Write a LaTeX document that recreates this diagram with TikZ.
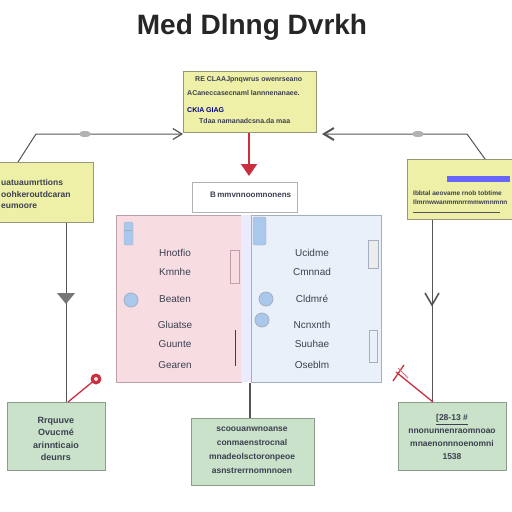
\documentclass[tikz,border=0pt]{standalone}
\usepackage{fontspec}
\setmainfont{Liberation Sans}
\usetikzlibrary{arrows.meta,shapes.geometric}
\definecolor{ybox}{RGB}{238,240,168}
\definecolor{yedge}{RGB}{150,150,120}
\definecolor{gbox}{RGB}{202,226,202}
\definecolor{gedge}{RGB}{140,155,140}
\definecolor{pinkp}{RGB}{247,220,226}
\definecolor{pedge}{RGB}{190,160,168}
\definecolor{bluep}{RGB}{234,240,249}
\definecolor{bedge}{RGB}{165,175,192}
\definecolor{redl}{RGB}{200,48,64}
\definecolor{linec}{RGB}{85,85,85}
\definecolor{txt}{RGB}{60,64,80}
\definecolor{dotb}{RGB}{170,200,235}
\begin{document}
\begin{tikzpicture}[x=1pt,y=-1pt,
  ybx/.style={draw=yedge,fill=ybox,line width=0.8pt},
  gbx/.style={draw=gedge,fill=gbox,line width=0.8pt},
  conn/.style={draw=linec,line width=1pt},
  redc/.style={draw=redl,line width=1.3pt},
  tx/.style={text=txt,font=\fontsize{8}{9}\selectfont\bfseries,inner sep=0pt},
  ptx/.style={text=txt,font=\fontsize{10}{11}\selectfont,inner sep=0pt},
  dot/.style={circle,draw=bedge,fill=dotb,minimum size=14pt,inner sep=0pt,line width=0.8pt}]
\useasboundingbox (0,0) rectangle (512,512);
\fill[white] (0,0) rectangle (512,512);
% title
\node[font=\fontsize{28}{30}\selectfont\bfseries,text=black!85] (title) at (252,27) {Med Dlnng Dvrkh};
% top yellow box
\node[ybx,minimum width=133pt,minimum height=61pt,anchor=north west] (top) at (183,71) {};
\node[tx,anchor=west,font=\fontsize{7}{8}\selectfont\bfseries] (t1) at (195,80) {RE CLAAJpnqwrus owenrseano};
\node[tx,anchor=west,font=\fontsize{7}{8}\selectfont\bfseries] (t2) at (187,93) {ACaneccasecnaml lannnenanaee.};
\node[tx,anchor=west,font=\fontsize{7}{8}\selectfont\bfseries,text=blue!55!black] (t3) at (187,110) {CKIA GIAG};
\node[tx,anchor=west,font=\fontsize{7}{8}\selectfont\bfseries] (t4) at (199,121) {Tdaa namanadcsna.da maa};
% side yellow boxes
\node[ybx,minimum width=95pt,minimum height=60pt,anchor=north west] (lbox) at (-2,162) {};
\node[tx,anchor=west,font=\fontsize{8.5}{9}\selectfont\bfseries] (l1) at (1,182) {uatuaumrttions};
\node[tx,anchor=west,font=\fontsize{8.5}{9}\selectfont\bfseries] (l2) at (1,194) {oohkeroutdcaran};
\node[tx,anchor=west,font=\fontsize{8.5}{9}\selectfont\bfseries] (l3) at (1,206) {eumoore};
\node[ybx,minimum width=108pt,minimum height=60pt,anchor=north west] (rbox) at (407,159) {};
\fill[blue!60!white] (447,176) rectangle (510,182);
\node[tx,anchor=west,font=\fontsize{6.5}{7}\selectfont\bfseries] (r1) at (413,193) {Ibbtal aeovame rnob tobtime};
\node[tx,anchor=west,font=\fontsize{6.5}{7}\selectfont\bfseries] (r2) at (413,202) {Ilmrnwwanmmnrrmmwmnmnn};
\draw[linec,line width=0.8pt] (413,212) -- (500,212);
% top connectors
\coordinate (lk) at (36,134);
\coordinate (rk) at (467,134);
\coordinate (la) at (183,134);
\coordinate (ra) at (322,134);
\draw[conn,-{Straight Barb[length=9pt,width=11pt,line width=1.2pt]}] (lbox.north west) ++(20,0) coordinate (lbt) -- (lk) -- (la);
\draw[conn,-{Straight Barb[length=10pt,width=12pt,line width=2pt]}] (rbox.north west) ++(78,0) coordinate (rbt) -- (rk) -- (ra);
\fill[gray!60] (85,134) ellipse (6pt and 3pt);
\fill[gray!60] (418,134) ellipse (6pt and 3pt);
% red arrow
\coordinate (rs) at (249,176);
\draw[redc,line width=2pt,-{Triangle[length=12pt,width=16pt]}] (top.south -| rs) -- (rs);
% center label box
\node[draw=gray!60,fill=white,minimum width=105pt,minimum height=30pt,anchor=north west] (lab) at (192,182) {};
\node[tx,anchor=west,font=\fontsize{8}{9}\selectfont\bfseries] (labt) at (210,195) {B\,mmvnnoomnonens};
% panels
\node[draw=pedge,fill=pinkp,minimum width=125pt,minimum height=167pt,anchor=north west,line width=0.8pt] (pink) at (116,215) {};
\fill[blue!8] (241,215) rectangle (251,382);
\node[draw=bedge,fill=bluep,minimum width=130pt,minimum height=167pt,anchor=north west,line width=0.8pt] (blue) at (251,215) {};
% pink panel decorations
\draw[fill=dotb,draw=bedge,rounded corners=2pt] (124,222) rectangle (133,245);
\draw[bedge] (124,230) -- (133,230);
\draw[pedge,line width=0.8pt] (230,250) rectangle (239,283);
\draw[txt,line width=0.8pt] (235,330) -- (235,366);
\node[dot] (pd) at (131,300) {};
\node[ptx] (p1) at (175,253) {Hnotfio};
\node[ptx] (p2) at (175,272) {Kmnhe};
\node[ptx] (p3) at (175,299) {Beaten};
\node[ptx] (p4) at (175,325) {Gluatse};
\node[ptx] (p5) at (175,344) {Guunte};
\node[ptx] (p6) at (175,365) {Gearen};
% blue panel decorations
\draw[fill=dotb,draw=bedge,rounded corners=2pt] (253,217) rectangle (266,245);
\draw[bedge,fill=gray!15] (368,240) rectangle (378,268);
\draw[bedge] (369,330) rectangle (377,362);
\node[dot] (bd1) at (266,299) {};
\node[dot] (bd2) at (262,320) {};
\node[ptx] (b1) at (312,253) {Ucidme};
\node[ptx] (b2) at (312,272) {Cmnnad};
\node[ptx] (b3) at (312,299) {Cldmré};
\node[ptx] (b4) at (312,325) {Ncnxnth};
\node[ptx] (b5) at (312,344) {Suuhae};
\node[ptx] (b6) at (312,365) {Oseblm};
% bottom boxes
\node[gbx,minimum width=98pt,minimum height=68pt,anchor=north west] (bl) at (7,402) {};
\node[tx,align=center,font=\fontsize{9}{12.5}\selectfont\bfseries] (blt) at (56,439) {Rrquuve\\ Ovucm\'e\\ arinnticaio\\ deunrs};
\node[gbx,minimum width=123pt,minimum height=67pt,anchor=north west] (bc) at (191,418) {};
\node[tx,align=center,font=\fontsize{8.5}{14}\selectfont\bfseries] (bct) at (252,450) {scoouanwnoanse\\ conmaenstrocnal\\ mnadeolsctoronpeoe\\ asnstrerrnomnnoen};
\node[gbx,minimum width=108pt,minimum height=68pt,anchor=north west] (br) at (398,402) {};
\node[tx,align=center,font=\fontsize{8.5}{13}\selectfont\bfseries] (brt) at (452,437) {\underline{[28-13 \#}\\ nnonunnenraomnoao\\ mnaenonnnoenomni\\ 1538};
% vertical connectors
\draw[conn] (lbox.south -| 66,0) coordinate (lv1) -- (lv1 |- bl.north);
\fill[linec!80] (57,293) -- (75,293) -- (66,304) -- cycle;
\draw[conn] (rbox.south -| 432,0) coordinate (rv1) -- (rv1 |- br.north);
\draw[linec,line width=1.6pt] (425,293) -- (432,305) -- (439,293);
\draw[linec,line width=1.4pt] (pink.south east) ++(8,0) coordinate (cv) -- (cv |- bc.north);
% red marks
\coordinate (rb1) at (96,379);
\draw[redc] (bl.north -| 68,0) -- (rb1);
\fill[redl] (rb1) circle (5.5pt);
\fill[pinkp] (96,379) circle (2pt);
\coordinate (rb2) at (396,372);
\draw[redc] (br.north -| 433,0) -- (rb2);
\draw[redc] (393,381) -- (404,365);
\draw[redl!70,line width=1pt] (398,368) -- (408,378);
\end{tikzpicture}
\end{document}
